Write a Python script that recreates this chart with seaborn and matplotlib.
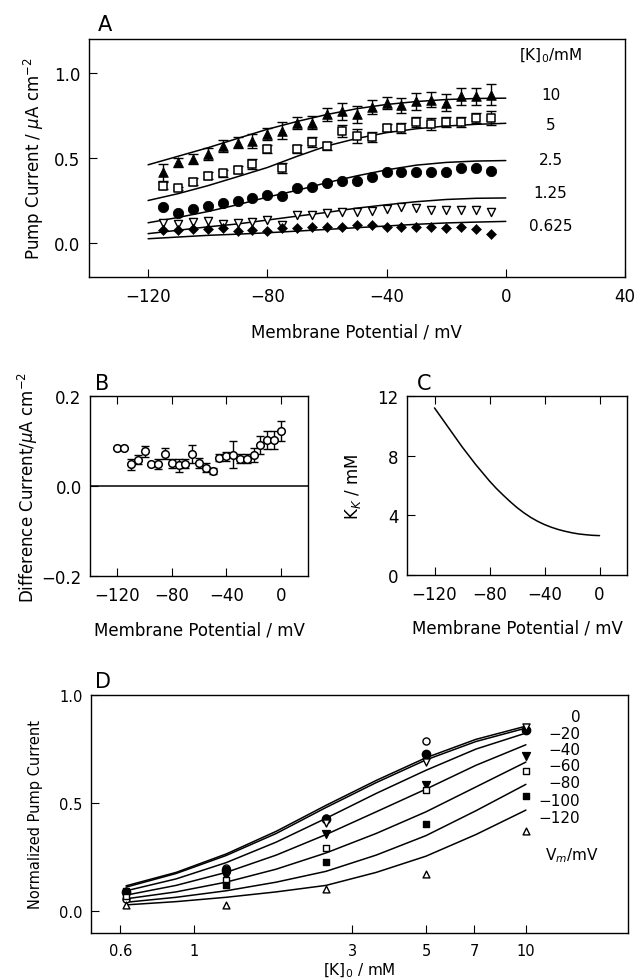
import numpy as np
import pandas as pd
import seaborn as sns
import matplotlib
matplotlib.use("Agg")
from matplotlib import pyplot as plt

# ---------------- data ----------------
# panel A: pump current vs membrane potential for several [K]o
vm_pts = [-115, -110, -105, -100, -95, -90, -85, -80, -75, -70, -65, -60,
          -55, -50, -45, -40, -35, -30, -25, -20, -15, -10, -5]
i_k10 = [0.415, 0.474, 0.493, 0.522, 0.571, 0.591, 0.600, 0.639, 0.659, 0.708, 0.708, 0.756,
         0.776, 0.756, 0.801, 0.825, 0.809, 0.834, 0.844, 0.825, 0.864, 0.864, 0.873]
e_k10 = [0.05, 0.025, 0.03, 0.035, 0.035, 0.035, 0.04, 0.035, 0.05, 0.035, 0.04, 0.04,
         0.05, 0.05, 0.04, 0.035, 0.045, 0.05, 0.045, 0.05, 0.05, 0.05, 0.06]
i_k5 = [0.337, 0.322, 0.360, 0.396, 0.409, 0.431, 0.464, 0.552, 0.440, 0.552, 0.595, 0.571,
        0.659, 0.630, 0.624, 0.678, 0.678, 0.711, 0.698, 0.711, 0.711, 0.737, 0.737]
e_k5 = [0.02, 0.01, 0.02, 0.02, 0.02, 0.02, 0.03, 0.025, 0.03, 0.025, 0.03, 0.025,
        0.035, 0.04, 0.03, 0.02, 0.03, 0.03, 0.035, 0.03, 0.03, 0.03, 0.04]
i_k25 = [0.210, 0.175, 0.200, 0.220, 0.234, 0.250, 0.263, 0.285, 0.275, 0.322, 0.327, 0.353,
         0.366, 0.366, 0.386, 0.415, 0.415, 0.415, 0.415, 0.419, 0.444, 0.439, 0.425]
i_k125 = [0.117, 0.109, 0.123, 0.127, 0.113, 0.117, 0.123, 0.138, 0.103, 0.162, 0.162, 0.175,
          0.181, 0.181, 0.191, 0.200, 0.210, 0.205, 0.197, 0.197, 0.195, 0.195, 0.185]
i_k0625 = [0.078, 0.074, 0.084, 0.084, 0.088, 0.070, 0.078, 0.070, 0.090, 0.088, 0.097, 0.094,
           0.094, 0.103, 0.103, 0.097, 0.097, 0.097, 0.094, 0.090, 0.094, 0.080, 0.055]

vm_fit = [-120, -110, -100, -90, -80, -70, -60, -50, -40, -30, -20, -10, 0]
fit_k10 = [0.46, 0.51, 0.56, 0.615, 0.669, 0.715, 0.756, 0.79, 0.815, 0.832, 0.844, 0.85, 0.852]
fit_k5 = [0.25, 0.29, 0.337, 0.39, 0.444, 0.51, 0.571, 0.615, 0.649, 0.672, 0.688, 0.698, 0.704]
fit_k25 = [0.119, 0.15, 0.185, 0.225, 0.27, 0.31, 0.355, 0.395, 0.43, 0.458, 0.474, 0.482, 0.485]
fit_k125 = [0.055, 0.075, 0.095, 0.112, 0.135, 0.158, 0.18, 0.205, 0.225, 0.243, 0.256, 0.263, 0.265]
fit_k0625 = [0.025, 0.035, 0.045, 0.052, 0.06, 0.07, 0.08, 0.09, 0.10, 0.11, 0.118, 0.123, 0.127]
conc_labels = ["10", "5", "2.5", "1.25", "0.625"]
conc_label_y = [0.873, 0.698, 0.493, 0.298, 0.103]

# panel B: difference current
vm_b = [-120, -115, -110, -105, -100, -95, -90, -85, -80, -75, -70, -65, -60,
        -55, -50, -45, -40, -35, -30, -25, -20, -15, -10, -5, 0]
diff_b = [0.085, 0.085, 0.048, 0.058, 0.077, 0.048, 0.049, 0.072, 0.051, 0.046, 0.049, 0.072, 0.051,
          0.041, 0.033, 0.063, 0.066, 0.070, 0.061, 0.061, 0.069, 0.092, 0.103, 0.103, 0.123]
err_b = [0.0, 0.0, 0.012, 0.01, 0.012, 0.0, 0.012, 0.012, 0.01, 0.015, 0.01, 0.02, 0.012,
         0.01, 0.006, 0.008, 0.01, 0.03, 0.01, 0.01, 0.015, 0.02, 0.02, 0.02, 0.022]

# panel C: K_K vs membrane potential
vm_c = [-120, -115, -110, -105, -100, -95, -90, -85, -80, -75, -70, -65, -60,
        -55, -50, -45, -40, -35, -30, -25, -20, -15, -10, -5, 0]
kk_c = [11.2, 10.55, 9.9, 9.25, 8.6, 8.0, 7.4, 6.85, 6.3, 5.8, 5.35, 4.92, 4.52,
        4.17, 3.86, 3.6, 3.38, 3.2, 3.05, 2.93, 2.83, 2.75, 2.7, 2.66, 2.64]

# panel D: normalized pump current vs [K]o
k_pts = [0.625, 1.25, 2.5, 5, 10]
vm_labels = ["0", "\u221220", "\u221240", "\u221260", "\u221280", "\u2212100", "\u2212120"]
vm_label_y = [0.90, 0.824, 0.748, 0.675, 0.595, 0.514, 0.434]
d_v0 = [0.055, 0.20, 0.43, 0.787, 0.84]
d_v20 = [0.09, 0.19, 0.426, 0.729, 0.836]
d_v40 = [0.075, 0.17, 0.41, 0.69, 0.85]
d_v60 = [0.08, 0.165, 0.356, 0.583, 0.718]
d_v80 = [0.07, 0.145, 0.291, 0.56, 0.649]
d_v100 = [0.095, 0.12, 0.23, 0.406, 0.532]
d_v120 = [0.03, 0.028, 0.104, 0.172, 0.371]

k_fit = [0.625, 0.884, 1.25, 1.77, 2.5, 3.54, 5, 7.07, 10]
f_v0 = [0.118, 0.18, 0.265, 0.37, 0.49, 0.605, 0.71, 0.795, 0.856]
f_v20 = [0.112, 0.175, 0.258, 0.36, 0.48, 0.595, 0.70, 0.785, 0.847]
f_v40 = [0.095, 0.15, 0.225, 0.32, 0.43, 0.545, 0.652, 0.75, 0.824]
f_v60 = [0.075, 0.12, 0.18, 0.26, 0.355, 0.46, 0.565, 0.675, 0.77]
f_v80 = [0.058, 0.09, 0.135, 0.195, 0.27, 0.36, 0.46, 0.575, 0.69]
f_v100 = [0.042, 0.065, 0.095, 0.135, 0.185, 0.26, 0.35, 0.465, 0.587]
f_v120 = [0.03, 0.045, 0.065, 0.09, 0.12, 0.18, 0.255, 0.355, 0.468]

# ---------------- style ----------------
sns.set_style("ticks")
plt.rcParams['font.family'] = ['DejaVu Sans']
plt.rcParams['mathtext.fontset'] = 'dejavusans'
for key in ('text.color', 'axes.labelcolor', 'xtick.color', 'ytick.color', 'axes.edgecolor'):
    plt.rcParams[key] = 'black'
plt.rcParams['axes.linewidth'] = 1.0
plt.rcParams['xtick.direction'] = 'in'
plt.rcParams['ytick.direction'] = 'in'
plt.rcParams['xtick.major.size'] = 6
plt.rcParams['ytick.major.size'] = 6
plt.rcParams['xtick.minor.size'] = 0
plt.rcParams['ytick.minor.size'] = 0
plt.rcParams['xtick.major.pad'] = 7
plt.rcParams['ytick.major.pad'] = 6

fig = plt.figure(figsize=(6.34, 9.79), dpi=100)
W, H = 634.0, 979.0
def box(l, t, r, b):
    return [l / W, 1 - b / H, (r - l) / W, (b - t) / H]

axA = fig.add_axes(box(88.5, 40, 625, 278))
axB = fig.add_axes(box(90, 397, 308, 577))
axC = fig.add_axes(box(407, 397, 627, 576))
axD = fig.add_axes(box(91, 696, 628, 934))

LW = 1.1

# ---------------- panel A ----------------
fitA = pd.DataFrame({
    'vm': vm_fit * 5,
    'i': fit_k10 + fit_k5 + fit_k25 + fit_k125 + fit_k0625,
    'k': sum([[c] * len(vm_fit) for c in conc_labels], [])})
sns.lineplot(data=fitA, x='vm', y='i', units='k', estimator=None, color='black',
             lw=LW, ax=axA, legend=False)

axA.errorbar(vm_pts, i_k10, yerr=e_k10, fmt='none', ecolor='black', elinewidth=1, capsize=3.5)
axA.errorbar(vm_pts, i_k5, yerr=e_k5, fmt='none', ecolor='black', elinewidth=1, capsize=3.5)
sns.scatterplot(x=vm_pts, y=i_k10, marker='^', s=48, color='black', edgecolor='black', ax=axA, zorder=3)
sns.scatterplot(x=vm_pts, y=i_k5, marker='s', s=26, color='white', edgecolor='black', linewidth=1.1, ax=axA, zorder=3)
sns.scatterplot(x=vm_pts, y=i_k25, marker='o', s=55, color='black', edgecolor='black', ax=axA, zorder=3)
sns.scatterplot(x=vm_pts, y=i_k125, marker='v', s=34, color='white', edgecolor='black', linewidth=1.0, ax=axA, zorder=3)
sns.scatterplot(x=vm_pts, y=i_k0625, marker='D', s=26, color='black', edgecolor='black', ax=axA, zorder=3)

axA.set_xlim(-140, 40)
axA.set_ylim(-0.2, 1.2)
axA.set_xticks([-120, -80, -40, 0, 40])
axA.set_yticks([0.0, 0.5, 1.0])
axA.set_yticklabels(["0.0", "0.5", "1.0"])
axA.tick_params(labelsize=12)
axA.set_xlabel("Membrane Potential / mV", fontsize=12)
axA.set_ylabel(r"Pump Current / $\mu$A cm$^{-2}$", fontsize=12)
axA.xaxis.set_label_coords(0.5, -0.19)
axA.yaxis.set_label_coords(-0.08, 0.5)
axA.text(15, 1.107, r"[K]$_0$/mM", ha='center', va='center', fontsize=11)
for lab, yy in zip(conc_labels, conc_label_y):
    axA.text(15, yy, lab, ha='center', va='center', fontsize=11)
axA.text(-137, 1.29, "A", fontsize=15, ha='left', va='center')

# ---------------- panel B ----------------
axB.axhline(0, color='black', lw=LW)
axB.errorbar(vm_b, diff_b, yerr=err_b, fmt='none', ecolor='black', elinewidth=1, capsize=3)
sns.scatterplot(x=vm_b, y=diff_b, marker='o', s=30, color='white', edgecolor='black',
                linewidth=1.1, ax=axB, zorder=3)
axB.set_xlim(-140, 20)
axB.set_ylim(-0.2, 0.2)
axB.set_xticks([-120, -80, -40, 0])
axB.set_yticks([-0.2, 0.0, 0.2])
axB.set_yticklabels(["\u22120.2", "0.0", "0.2"])
axB.tick_params(labelsize=12, top=True)
axB.set_xlabel("Membrane Potential / mV", fontsize=12)
axB.set_ylabel(r"Difference Current/$\mu$A cm$^{-2}$", fontsize=12)
axB.xaxis.set_label_coords(0.5, -0.245)
axB.yaxis.set_label_coords(-0.23, 0.5)
axB.text(-136, 0.228, "B", fontsize=15, ha='left', va='center')

# ---------------- panel C ----------------
sns.lineplot(x=vm_c, y=kk_c, color='black', lw=LW, ax=axC)
axC.set_xlim(-140, 20)
axC.set_ylim(0, 12)
axC.set_xticks([-120, -80, -40, 0])
axC.set_yticks([0, 4, 8, 12])
axC.tick_params(labelsize=12, top=True)
axC.set_xlabel("Membrane Potential / mV", fontsize=12)
axC.set_ylabel(r"K$_K$ / mM", fontsize=12)
axC.xaxis.set_label_coords(0.5, -0.245)
axC.yaxis.set_label_coords(-0.2, 0.5)
axC.text(-133, 12.85, "C", fontsize=15, ha='left', va='center')

# ---------------- panel D ----------------
fitD = pd.DataFrame({
    'k': k_fit * 7,
    'i': f_v0 + f_v20 + f_v40 + f_v60 + f_v80 + f_v100 + f_v120,
    'vm': sum([[v] * len(k_fit) for v in vm_labels], [])})
sns.lineplot(data=fitD, x='k', y='i', units='vm', estimator=None, color='black',
             lw=LW, ax=axD, legend=False)
d_series = [(d_v0, 'o', 'white', 26), (d_v20, 'o', 'black', 36), (d_v40, 'v', 'white', 26),
            (d_v60, 'v', 'black', 32), (d_v80, 's', 'white', 20), (d_v100, 's', 'black', 24),
            (d_v120, '^', 'white', 24)]
for vals, mk, fc, sz in d_series:
    sns.scatterplot(x=k_pts, y=vals, marker=mk, s=sz, color=fc, edgecolor='black',
                    linewidth=1.0, ax=axD, zorder=3)
axD.set_xscale('log')
axD.set_xlim(0.49, 20.3)
axD.set_ylim(-0.1, 1.0)
axD.set_xticks([0.6, 1, 3, 5, 7, 10])
axD.set_xticklabels(["0.6", "1", "3", "5", "7", "10"])
axD.xaxis.set_minor_locator(matplotlib.ticker.NullLocator())
axD.set_yticks([0.0, 0.5, 1.0])
axD.set_yticklabels(["0.0", "0.5", "1.0"])
axD.tick_params(labelsize=10.5)
axD.set_xlabel(r"[K]$_0$ / mM", fontsize=11)
axD.set_ylabel("Normalized Pump Current", fontsize=10.5)
axD.xaxis.set_label_coords(0.5, -0.115)
axD.yaxis.set_label_coords(-0.09, 0.5)
for lab, yy in zip(vm_labels, vm_label_y):
    axD.text(14.6, yy, lab, ha='right', va='center', fontsize=11)
axD.text(13.8, 0.26, r"V$_m$/mV", ha='center', va='center', fontsize=11)
axD.text(0.505, 1.065, "D", fontsize=15, ha='left', va='center')

for ax in (axA, axB, axC, axD):
    for sp in ax.spines.values():
        sp.set_visible(True)
        sp.set_linewidth(1.0)
        sp.set_color('black')

fig.savefig("out.png", dpi=100)
